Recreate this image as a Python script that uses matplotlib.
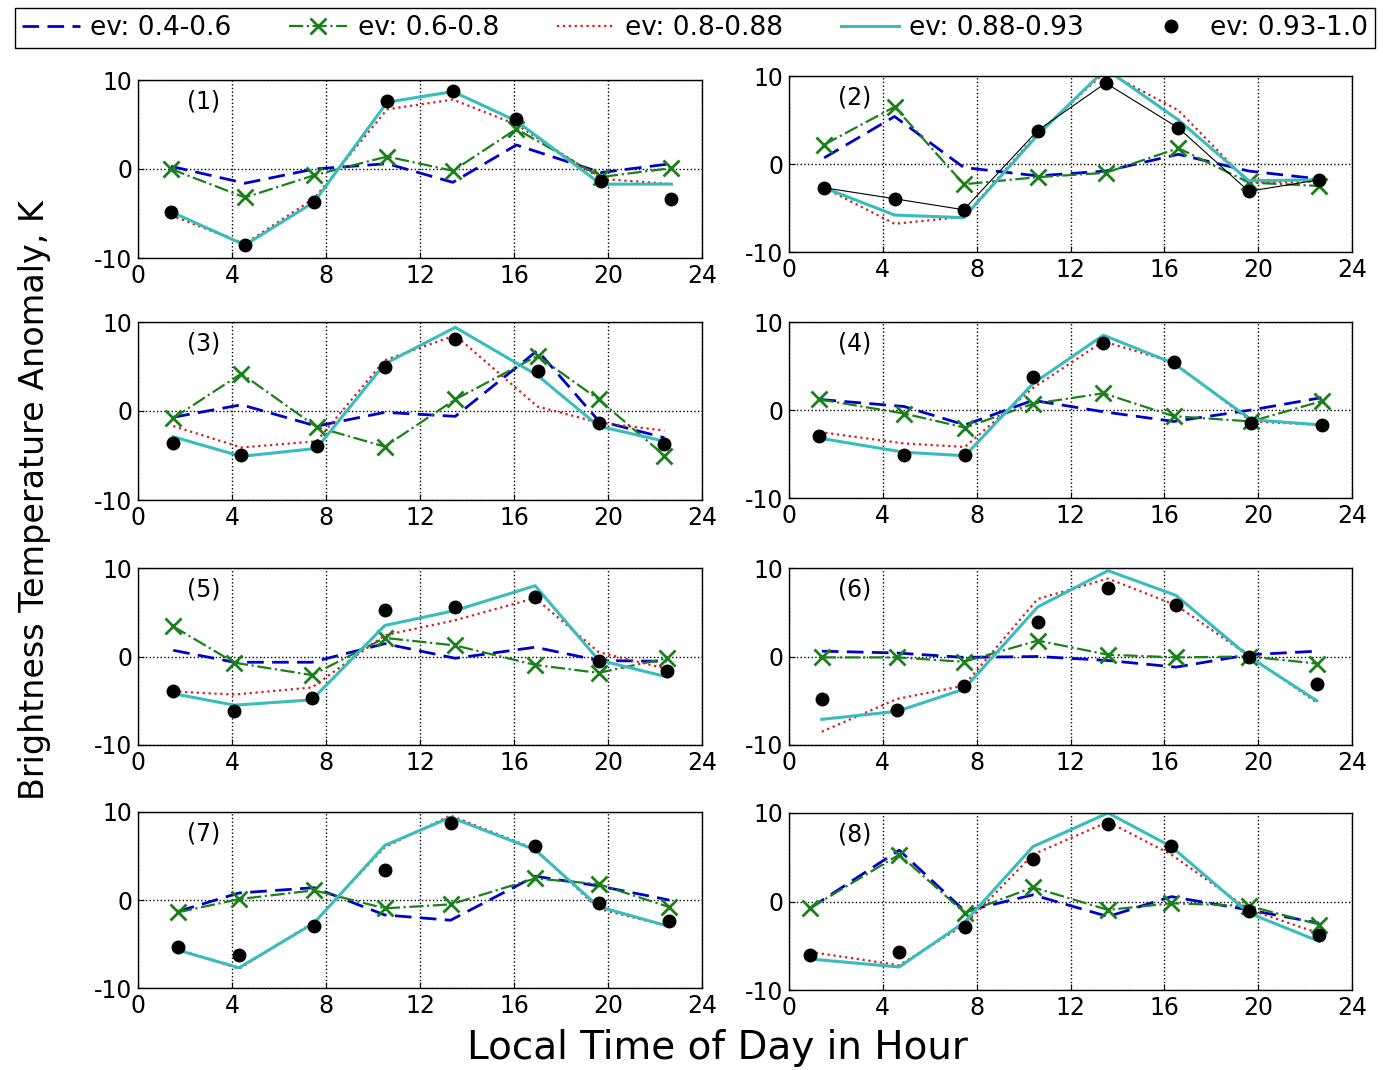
import matplotlib
matplotlib.use("Agg")
import matplotlib.pyplot as plt

plt.rcParams["axes.unicode_minus"] = False

# local time of the eight overpass bins, one list per panel
hours = [
    [1.4, 4.55, 7.5, 10.6, 13.4, 16.1, 19.7, 22.7],
    [1.5, 4.5, 7.45, 10.6, 13.5, 16.6, 19.6, 22.6],
    [1.5, 4.4, 7.6, 10.5, 13.5, 17.0, 19.6, 22.4],
    [1.3, 4.9, 7.5, 10.4, 13.4, 16.4, 19.7, 22.7],
    [1.5, 4.1, 7.4, 10.5, 13.5, 16.9, 19.6, 22.5],
    [1.4, 4.6, 7.45, 10.6, 13.6, 16.5, 19.6, 22.5],
    [1.7, 4.3, 7.5, 10.5, 13.3, 16.9, 19.6, 22.6],
    [0.9, 4.7, 7.5, 10.4, 13.6, 16.3, 19.6, 22.6],
]

# brightness temperature anomaly (K) for each emissivity class
ev_04_06 = [
    [0.3, -1.6, 0.0, 0.6, -1.5, 2.7, -0.4, 0.6],
    [0.7, 5.4, -0.4, -1.35, -0.8, 1.1, -0.8, -1.7],
    [-0.7, 0.7, -1.7, -0.15, -0.6, 6.8, -1.1, -3.0],
    [1.2, 0.4, -1.7, 1.1, -0.2, -1.3, 0.0, 1.4],
    [0.7, -0.65, -0.65, 1.45, -0.2, 1.05, -0.45, -0.55],
    [0.6, 0.4, -0.1, 0.0, -0.45, -1.2, 0.2, 0.6],
    [-1.3, 0.8, 1.4, -1.7, -2.3, 2.7, 1.6, 0.0],
    [-0.75, 5.8, -1.1, 0.75, -1.7, 0.55, -0.95, -2.45],
]
ev_06_08 = [
    [0.0, -3.2, -0.7, 1.4, -0.2, 4.5, -0.9, 0.1],
    [2.2, 6.5, -2.3, -1.5, -1.0, 1.8, -2.1, -2.5],
    [-0.8, 4.2, -1.8, -4.0, 1.3, 6.2, 1.3, -5.0],
    [1.2, -0.4, -2.0, 0.7, 1.9, -0.7, -1.3, 1.0],
    [3.4, -0.7, -2.1, 2.1, 1.25, -0.95, -1.85, -0.2],
    [-0.1, -0.1, -0.6, 1.8, 0.2, -0.1, 0.0, -0.8],
    [-1.4, 0.1, 1.1, -0.95, -0.5, 2.45, 1.8, -0.8],
    [-0.75, 5.3, -1.3, 1.6, -0.95, -0.2, -0.5, -2.6],
]
ev_08_088 = [
    [-5.2, -8.4, -3.3, 6.7, 7.8, 5.0, -1.1, -1.7],
    [-2.7, -6.8, -6.0, 3.5, 10.5, 6.1, -2.1, -2.0],
    [-1.7, -4.1, -3.4, 5.7, 8.5, 0.5, -1.3, -2.2],
    [-2.5, -3.8, -4.2, 2.5, 7.8, 5.4, -1.3, -1.7],
    [-3.95, -4.3, -3.5, 2.4, 4.1, 6.6, 0.5, -1.4],
    [-8.5, -4.8, -3.3, 6.5, 8.8, 5.8, 0.1, -5.2],
    [-5.6, -7.8, -2.5, 6.0, 9.6, 5.8, -1.0, -3.0],
    [-5.7, -7.2, -2.6, 5.3, 9.0, 5.3, -0.9, -3.6],
]
ev_088_093 = [
    [-4.8, -8.55, -3.7, 7.5, 8.7, 5.4, -1.7, -1.7],
    [-2.7, -5.8, -6.1, 3.3, 10.8, 5.0, -1.9, -1.8],
    [-2.9, -5.1, -4.2, 5.3, 9.4, 4.0, -1.7, -3.4],
    [-3.2, -4.8, -5.2, 3.0, 8.5, 5.3, -1.1, -1.7],
    [-4.2, -5.5, -4.9, 3.5, 5.2, 8.0, -0.4, -2.3],
    [-7.1, -6.2, -3.7, 5.6, 9.7, 6.9, 0.0, -5.0],
    [-5.7, -7.7, -2.6, 6.2, 9.4, 5.7, -0.75, -3.0],
    [-6.5, -7.4, -2.3, 6.2, 10.0, 6.2, -1.3, -4.5],
]
ev_093_10 = [
    [-4.85, -8.55, -3.7, 7.6, 8.8, 5.6, -1.4, -3.35],
    [-2.7, -3.95, -5.2, 3.8, 9.2, 4.1, -3.1, -1.8],
    [-3.55, -4.95, -3.9, 5.0, 8.1, 4.5, -1.3, -3.7],
    [-2.9, -5.1, -5.1, 3.8, 7.6, 5.5, -1.5, -1.7],
    [-3.95, -6.2, -4.7, 5.3, 5.6, 6.7, -0.55, -1.6],
    [-4.8, -6.0, -3.3, 3.9, 7.7, 5.8, 0.0, -3.1],
    [-5.3, -6.2, -3.0, 3.4, 8.7, 6.1, -0.3, -2.4],
    [-6.1, -5.7, -2.9, 4.8, 8.8, 6.3, -1.05, -3.8],
]

panel_names = ["(1)", "(2)", "(3)", "(4)", "(5)", "(6)", "(7)", "(8)"]
legend_labels = ["ev: 0.4-0.6", "ev: 0.6-0.8", "ev: 0.8-0.88",
                 "ev: 0.88-0.93", "ev: 0.93-1.0"]

W, H = 1383, 1070
fig = plt.figure(figsize=(W / 100, H / 100), dpi=100)

# axes boxes in pixels: (left, top, right, bottom)
boxes = [
    (138, 80, 702, 258), (789, 76, 1352, 252),
    (138, 322, 702, 500), (789, 322, 1352, 498),
    (138, 568, 702, 745), (789, 568, 1352, 745),
    (138, 812, 702, 988), (789, 813, 1352, 990),
]

handles = None
for i, (l, t, r, b) in enumerate(boxes):
    ax = fig.add_axes([l / W, 1 - b / H, (r - l) / W, (b - t) / H])
    x = hours[i]
    h1, = ax.plot(x, ev_04_06[i], color="#0000cc", ls=(0, (6, 3)), lw=2)
    h2, = ax.plot(x, ev_06_08[i], color="#1a801a", ls="-.", lw=1.6,
                  marker="x", ms=11, mew=2)
    h3, = ax.plot(x, ev_08_088[i], color="#d02020", ls=":", lw=1.6)
    h4, = ax.plot(x, ev_088_093[i], color="#38bdbd", ls="-", lw=2.2)
    if i == 1:
        ax.plot(x, ev_093_10[i], color="black", lw=0.8)
    h5, = ax.plot(x, ev_093_10[i], "o", color="black", ms=9, ls="none")
    handles = [h1, h2, h3, h4, h5]

    ax.set_xlim(0, 24)
    ax.set_ylim(-10, 10)
    ax.set_xticks(range(0, 25, 4))
    ax.set_yticks([-10, 0, 10])
    ax.grid(True, ls=":", color="black", lw=1)
    ax.tick_params(direction="in", labelsize=17, length=4, pad=4)
    for s in ax.spines.values():
        s.set_linewidth(1)
    ax.text(2.8, 7.6, panel_names[i], fontsize=17, ha="center", va="center")

fig.legend(handles, legend_labels, loc="center", ncol=5, mode="expand",
           bbox_to_anchor=(15 / W, 1 - 48 / H, 1360 / W, 40 / H),
           borderaxespad=0, fontsize=19, handlelength=2.2,
           handletextpad=0.4, borderpad=0.25, columnspacing=0.8,
           fancybox=False, edgecolor="black", framealpha=1)

fig.text(717 / W, 1 - 1048 / H, "Local Time of Day in Hour", fontsize=28,
         ha="center", va="center")
fig.text(35 / W, 1 - 500 / H, "Brightness Temperature Anomaly, K",
         fontsize=24, rotation=90, ha="center", va="center")

fig.savefig("out.png", dpi=100)
